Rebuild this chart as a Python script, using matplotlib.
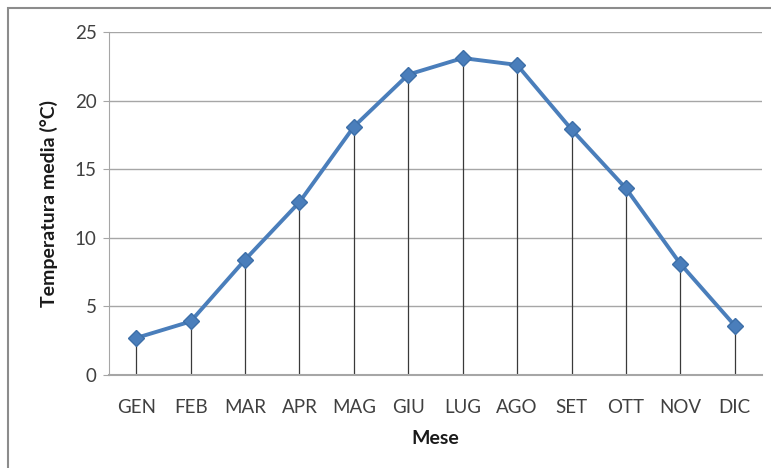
import matplotlib
matplotlib.use("Agg")
import matplotlib.pyplot as plt
from matplotlib.patches import Rectangle

months = ["GEN", "FEB", "MAR", "APR", "MAG", "GIU", "LUG", "AGO", "SET", "OTT", "NOV", "DIC"]
temps = [2.7, 3.9, 8.4, 12.6, 18.1, 21.9, 23.1, 22.6, 17.9, 13.6, 8.1, 3.6]
yticks = [0, 5, 10, 15, 20, 25]

plt.rcParams['font.family'] = ['Lato', 'DejaVu Sans']

W, H = 771, 468
fig = plt.figure(figsize=(W / 100, H / 100), dpi=100)
ax = fig.add_axes([109 / W, 1 - 375 / H, (762 - 109) / W, (375 - 32) / H])

x = list(range(len(months)))
ax.set_xlim(-0.5, len(months) - 0.5)
ax.set_ylim(0, 25)

for yv in yticks[1:]:
    ax.axhline(yv, color="#a6a6a6", lw=1.0, zorder=1)

ax.vlines(x, 0, temps, color="#3a3a3a", lw=0.9, zorder=2)
ax.plot(x, temps, color="#4a7ebb", lw=2.8, marker="D", markersize=8,
        markerfacecolor="#4a7ebb", markeredgecolor="#3d6fa8", zorder=3)

ax.set_yticks(yticks)
ax.set_xticks(x)
ax.set_xticklabels(months)
for s in ["top", "right"]:
    ax.spines[s].set_visible(False)
ax.spines["left"].set_color("#a6a6a6")
ax.spines["bottom"].set_color("#a6a6a6")
ax.spines["bottom"].set_linewidth(1.5)
ax.tick_params(axis="y", length=4, color="#a6a6a6", labelsize=13.5, labelcolor="#404040", pad=5)
ax.tick_params(axis="x", length=0, labelsize=13.5, labelcolor="#404040", pad=17)

ax.set_ylabel("Temperatura media (°C)", fontsize=14, fontweight="bold", color="#1a1a1a", labelpad=12)
ax.set_xlabel("Mese", fontsize=14, fontweight="bold", color="#1a1a1a", labelpad=10)

fig.patches.append(Rectangle((8 / W, -0.1), 2, 1 - 8 / H + 0.1, transform=fig.transFigure,
                             fill=False, edgecolor="#8c8c8c", lw=1.5))

fig.savefig("out.png", dpi=100)
